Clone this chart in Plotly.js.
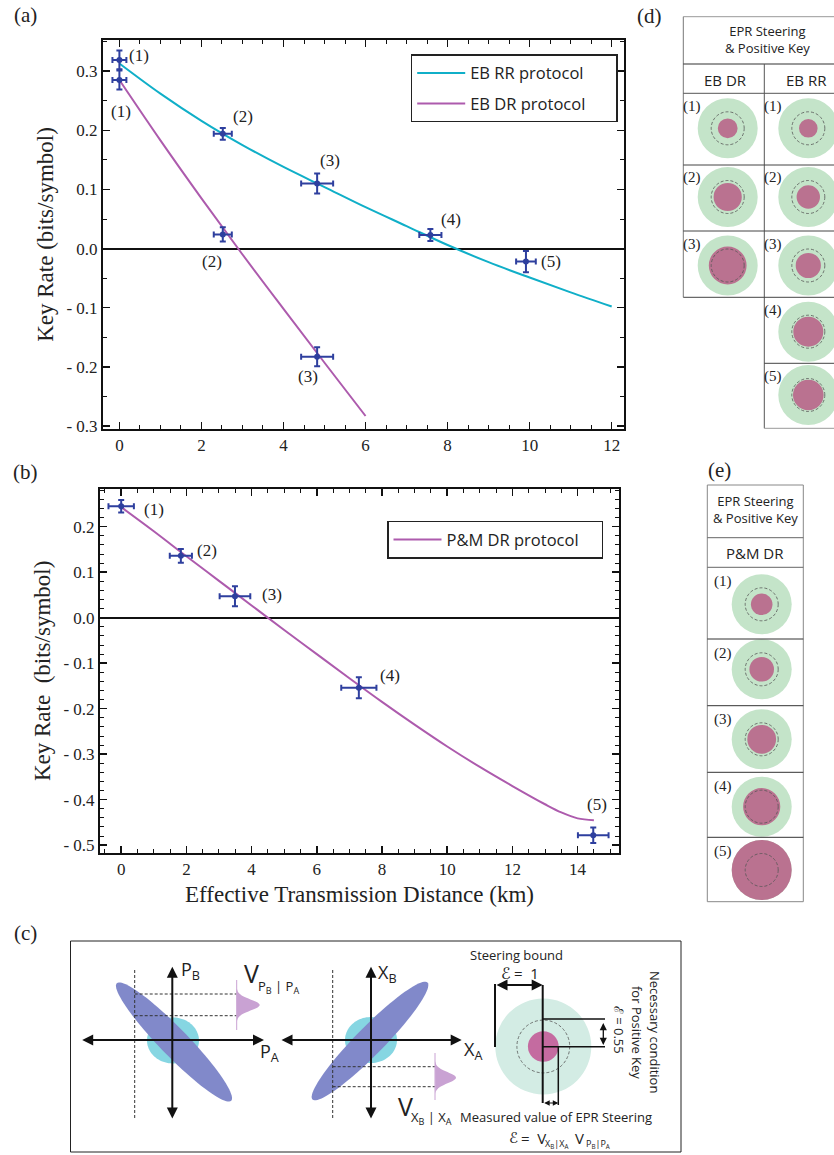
<!DOCTYPE html>
<html><head><meta charset="utf-8">
<script src="https://cdn.plot.ly/plotly-3.0.1.min.js"></script>
<style>html,body{margin:0;padding:0;background:#fff;} #chart{width:834px;height:1155px;}</style>
</head><body><div id="chart"></div>
<script>
// ---------- Panel (a): entanglement-based protocols ----------
const rrDist     = [0, 2.52, 4.82, 7.58, 9.91];
const rrKey      = [0.319, 0.194, 0.110, 0.023, -0.022];
const rrDistErr  = [0.17, 0.22, 0.39, 0.27, 0.24];
const rrKeyErr   = [0.016, 0.010, 0.017, 0.010, 0.018];
const drDist     = [0, 2.52, 4.82];
const drKey      = [0.285, 0.024, -0.183];
const drDistErr  = [0.17, 0.22, 0.39];
const drKeyErr   = [0.016, 0.012, 0.016];
const rrCurveX   = [0, 1, 2, 3, 4, 5, 6, 7, 8, 9, 10, 11, 12];
const rrCurveY   = [0.313, 0.262, 0.216, 0.175, 0.138, 0.104, 0.070, 0.038, 0.006, -0.023, -0.049, -0.074, -0.098];
const drCurveX   = [0, 1, 2, 3, 4, 5, 6];
const drCurveY   = [0.285, 0.183, 0.085, -0.010, -0.102, -0.193, -0.283];
const rrLabels   = ['(1)', '(2)', '(3)', '(4)', '(5)'];
const drLabels   = ['(1)', '(2)', '(3)'];
const aYTicks    = [-0.3, -0.2, -0.1, 0.0, 0.1, 0.2, 0.3];
const aYTickText = ['- 0.3', '- 0.2', '- 0.1', '0.0', '0.1', '0.2', '0.3'];
const aXTicks    = [0, 2, 4, 6, 8, 10, 12];

// ---------- Panel (b): prepare-and-measure protocol ----------
const pmDist     = [0, 1.83, 3.49, 7.29, 14.48];
const pmKey      = [0.245, 0.136, 0.047, -0.154, -0.478];
const pmDistErr  = [0.39, 0.34, 0.47, 0.54, 0.47];
const pmKeyErr   = [0.0135, 0.015, 0.022, 0.023, 0.017];
const pmCurveX   = [0, 1, 2, 3, 4, 5, 6, 7, 8, 9, 10, 11, 12, 13, 13.5, 14, 14.5];
const pmCurveY   = [0.243, 0.190, 0.135, 0.081, 0.027, -0.027, -0.080, -0.133, -0.185, -0.235, -0.283, -0.328, -0.370, -0.410, -0.428, -0.441, -0.445];
const pmLabels   = ['(1)', '(2)', '(3)', '(4)', '(5)'];
const bYTicks    = [-0.5, -0.4, -0.3, -0.2, -0.1, 0.0, 0.1, 0.2];
const bYTickText = ['- 0.5', '- 0.4', '- 0.3', '- 0.2', '- 0.1', '0.0', '0.1', '0.2'];
const bXTicks    = [0, 2, 4, 6, 8, 10, 12, 14];

// ---------- Panels (c)-(e): EPR steering values (fraction of steering bound) ----------
const keyBound      = 0.55;                       // necessary condition for positive key
const cSteer        = 0.32;                       // illustrative value in (c)
const dEBDRSteer    = [0.33, 0.47, 0.63];
const dEBRRSteer    = [0.31, 0.39, 0.42, 0.50, 0.51];
const ePMDRSteer    = [0.36, 0.41, 0.48, 0.62, 1.00];
const rowLabels     = ['(1)', '(2)', '(3)', '(4)', '(5)'];

// ---------- helpers (pixel -> paper) ----------
const W = 834, H = 1155;
const px = x => x / W;
const py = y => 1 - y / H;

const NAVY = '#2E3F9E', CYAN = '#10AFC8', MAG = '#AD5BAD';
const SERIF = 'Liberation Serif, Times New Roman, serif';
const SANS = 'Open Sans, Noto Sans, sans-serif';
const SCRIPT = 'DejaVu Serif, DejaVu Sans, serif';

function pts(x, y, ex, ey, xa, ya) {
  return {x, y, xaxis: xa, yaxis: ya, type: 'scatter', mode: 'markers', showlegend: false,
    marker: {color: NAVY, size: 6},
    error_x: {type: 'data', array: ex, color: NAVY, thickness: 2, width: 3},
    error_y: {type: 'data', array: ey, color: NAVY, thickness: 2, width: 3}};
}
const PAD = n => '\u00a0'.repeat(n);

const traces = [
  {x: rrCurveX, y: rrCurveY, type: 'scatter', mode: 'lines', name: 'EB RR protocol' + PAD(6),
   line: {color: CYAN, width: 2, shape: 'spline'}, legend: 'legend', legendgroup: 'rr', xaxis: 'x', yaxis: 'y'},
  {x: drCurveX, y: drCurveY, type: 'scatter', mode: 'lines', name: 'EB DR protocol' + PAD(6),
   line: {color: MAG, width: 2, shape: 'spline'}, legend: 'legend', legendgroup: 'dr', xaxis: 'x', yaxis: 'y'},
  pts(rrDist, rrKey, rrDistErr, rrKeyErr, 'x', 'y'),
  pts(drDist, drKey, drDistErr, drKeyErr, 'x', 'y'),
  {x: pmCurveX, y: pmCurveY, type: 'scatter', mode: 'lines', name: 'P&amp;M DR protocol' + PAD(4),
   line: {color: MAG, width: 2, shape: 'spline'}, legend: 'legend2', xaxis: 'x2', yaxis: 'y2'},
  pts(pmDist, pmKey, pmDistErr, pmKeyErr, 'x2', 'y2')
];

const axBase = {
  showline: true, linewidth: 2, linecolor: '#111', mirror: 'allticks',
  ticks: 'inside', ticklen: 7, tickwidth: 1.5, tickcolor: '#111',
  showgrid: false, zeroline: false,
  tickfont: {family: SERIF, size: 17, color: '#222'}
};

const annotations = [];
// point labels (offsets in pixels)
const rrOff = [[20, 4], [20, 17], [13, 23], [21, 15], [25, 0]];
const drOff = [[2, -32], [-11, -27], [-9, -20]];
const pmOff = [[33, -3], [26, 5], [37, 2], [31, 12], [4, 31]];
function ptLabels(xs, ys, labs, off, xr, yr) {
  labs.forEach((t, i) => annotations.push({x: xs[i], y: ys[i], xref: xr, yref: yr, text: t, showarrow: false,
    xanchor: 'center', yanchor: 'middle',
    xshift: off[i][0], yshift: off[i][1], font: {family: SERIF, size: 17, color: '#222'}}));
}
ptLabels(rrDist, rrKey, rrLabels, rrOff, 'x', 'y');
ptLabels(drDist, drKey, drLabels, drOff, 'x', 'y');
ptLabels(pmDist, pmKey, pmLabels, pmOff, 'x2', 'y2');

function txt(x, y, t, size, opts) {
  annotations.push(Object.assign({x: px(x), y: py(y), xref: 'paper', yref: 'paper', text: t, showarrow: false,
    xanchor: 'center', yanchor: 'middle',
    font: {family: SANS, size: size, color: '#222'}}, opts || {}));
}
// panel labels
[['(a)', 25, 15], ['(b)', 25, 472], ['(c)', 25, 933], ['(d)', 649, 16], ['(e)', 719, 470]].forEach(p =>
  txt(p[1], p[2], p[0], 21, {font: {family: SERIF, size: 21, color: '#222'}}));

const shapes = [];
function line(x0, y0, x1, y1, w, col, dash) {
  shapes.push({type: 'line', xref: 'paper', yref: 'paper', x0: px(x0), y0: py(y0), x1: px(x1), y1: py(y1),
    line: {color: col || '#111', width: w, dash: dash || 'solid'}});
}
function circ(cx, cy, r, fill, lineCol, lw, dash) {
  shapes.push({type: 'circle', xref: 'paper', yref: 'paper', x0: px(cx - r), x1: px(cx + r), y0: py(cy + r), y1: py(cy - r),
    fillcolor: fill || 'rgba(0,0,0,0)', line: {color: lineCol || 'rgba(0,0,0,0)', width: lw || 0, dash: dash || 'solid'}});
}
function ellipse(cx, cy, a, b, ang, fill) {
  const t = ang * Math.PI / 180; let s = '';
  for (let i = 0; i <= 90; i++) {
    const u = 2 * Math.PI * i / 90, ex = a * Math.cos(u), ey = b * Math.sin(u);
    const X = cx + ex * Math.cos(t) - ey * Math.sin(t), Y = cy + ex * Math.sin(t) + ey * Math.cos(t);
    s += (i ? 'L' : 'M') + px(X).toFixed(5) + ',' + py(Y).toFixed(5);
  }
  shapes.push({type: 'path', xref: 'paper', yref: 'paper', path: s + 'Z', fillcolor: fill, line: {width: 0}});
}
function bump(x0, yc, h, sig, half, fill) {
  let s = 'M' + px(x0) + ',' + py(yc - half);
  for (let i = 0; i <= 40; i++) {
    const y = yc - half + 2 * half * i / 40;
    const x = x0 + h * Math.exp(-Math.pow(y - yc, 2) / (2 * sig * sig));
    s += 'L' + px(x).toFixed(5) + ',' + py(y).toFixed(5);
  }
  shapes.push({type: 'path', xref: 'paper', yref: 'paper', path: s + 'Z', fillcolor: fill, line: {width: 0}});
}
function arrow(x1, y1, x2, y2, both, w) {
  annotations.push({x: px(x2), y: py(y2), xref: 'paper', yref: 'paper', ax: x1 - x2, ay: y1 - y2,
    axref: 'pixel', ayref: 'pixel', showarrow: true, text: '', arrowhead: 2, arrowsize: 1.1,
    arrowwidth: w, arrowcolor: '#111', arrowside: both ? 'end+start' : 'end', standoff: 0, startstandoff: 0});
}

// ---------- Panel (c) ----------
shapes.push({type: 'rect', xref: 'paper', yref: 'paper', x0: px(70.5), x1: px(681), y0: py(1152), y1: py(941),
  line: {color: '#222', width: 1}});
const BLUE = '#8189CA', LCYAN = '#86D6E2', PINK = '#C9A2D3';
const DASH = '3px,2px';
// left scatter
ellipse(173, 1040.5, 26, 23, 0, LCYAN);
ellipse(174, 1042, 82, 14, 45.8, BLUE);
line(134.7, 970, 134.7, 1120, 1, '#333', DASH);
line(134.7, 994, 236.7, 994, 1, '#333', DASH);
line(134.7, 1015.7, 236.7, 1015.7, 1, '#333', DASH);
line(236.7, 980, 236.7, 1030, 1, PINK);
bump(236.7, 1005, 23, 5.5, 16, PINK);
arrow(172.3, 1120, 172.3, 966.7, true, 2);
arrow(80.7, 1040, 264, 1040, true, 2);
txt(179, 970, 'P<sub>B</sub>', 18, {xanchor: 'left'});
txt(258, 1052, 'P<sub>A</sub>', 18, {xanchor: 'left'});
txt(242, 973, 'V', 25, {xanchor: 'left'});
txt(256, 987, 'P<sub>B</sub> | P<sub>A</sub>', 13, {xanchor: 'left'});
// middle scatter
ellipse(371, 1040, 26, 23, 0, LCYAN);
ellipse(370, 1041, 82, 14, -45.5, BLUE);
line(332.7, 970, 332.7, 1120, 1, '#333', DASH);
line(332.7, 1066.7, 435, 1066.7, 1, '#333', DASH);
line(332.7, 1086.7, 435, 1086.7, 1, '#333', DASH);
line(435, 1053, 435, 1100, 1, PINK);
bump(435, 1077.7, 21, 5.5, 16, PINK);
arrow(371, 1120, 371, 966.7, true, 2);
arrow(280, 1040, 461.7, 1040, true, 2);
txt(376, 973, 'X<sub>B</sub>', 18, {xanchor: 'left'});
txt(462, 1050, 'X<sub>A</sub>', 18, {xanchor: 'left'});
txt(396, 1106, 'V', 25, {xanchor: 'left'});
txt(409, 1118, 'X<sub>B</sub> | X<sub>A</sub>', 13, {xanchor: 'left'});
// right: steering illustration
const cR = 48, cX = 543.3, cY = 1046.5;
circ(cX, cY, cR, '#D3ECE4');
circ(cX, cY, cSteer * cR, '#C46BA0');
circ(cX, cY, keyBound * cR, null, '#555', 0.8, DASH);
line(495, 984, 495, 1047, 2);
line(542.7, 985, 542.7, 1103, 2);
line(542.7, 1019, 605, 1019, 1.5);
line(542.7, 1046.7, 605, 1046.7, 1.5);
line(558.3, 1046.7, 558.3, 1105, 1.5);
arrow(495, 985, 542.7, 985, true, 2);
arrow(603.3, 1021.5, 603.3, 1045, true, 1.3);
arrow(542.7, 1103, 558.3, 1103, true, 1);
txt(516, 955, 'Steering bound', 13);
txt(499, 973, 'ℰ', 16, {xanchor: 'left', font: {family: SCRIPT, size: 16, color: '#222'}});
txt(512, 973, '=  1', 15, {xanchor: 'left'});
txt(655, 1032, 'Necessary condition', 13, {textangle: 90});
txt(637, 1032, 'for Positive Key', 13, {textangle: 90});
txt(619, 1030, 'ℰ = 0.55', 13, {textangle: 90});
txt(556, 1117, 'Measured value of EPR Steering', 13);
txt(507, 1138, 'ℰ', 15, {xanchor: 'left', font: {family: SCRIPT, size: 15, color: '#222'}});
txt(519, 1138, '=  V', 15, {xanchor: 'left'});
txt(543, 1144, 'X<sub>B</sub>|X<sub>A</sub>', 9, {xanchor: 'left'});
txt(573, 1138, 'V', 15, {xanchor: 'left'});
txt(584, 1144, 'P<sub>B</sub>|P<sub>A</sub>', 9, {xanchor: 'left'});

// ---------- Panel (d) ----------
const GREEN = '#C4E4C9', KEYMAG = '#BA7290';
const tR = 30;
const dColX = [727.7, 808.3];
const dRowY = [128.3, 197, 265.5, 331.7, 395];
const dRowTop = [93.3, 165, 231, 297.3, 363.3];
function steerCell(cx, cy, e) {
  circ(cx, cy, tR, GREEN);
  circ(cx, cy, Math.min(e, 1) * tR, KEYMAG);
  circ(cx, cy, keyBound * tR, null, '#555', 0.8, DASH);
}
dEBDRSteer.forEach((e, i) => { steerCell(dColX[0], dRowY[i], e); txt(692, dRowTop[i] + 13, rowLabels[i], 15, {font: {family: SERIF, size: 15, color: '#222'}}); });
dEBRRSteer.forEach((e, i) => { steerCell(dColX[1], dRowY[i], e); txt(773, dRowTop[i] + 13, rowLabels[i], 15, {font: {family: SERIF, size: 15, color: '#222'}}); });
line(683.3, 16.7, 834, 16.7, 1, '#999');
line(683.3, 16.7, 683.3, 297.3, 1, '#777');
line(683.3, 64, 834, 64, 1.2, '#333');
line(683.3, 93.3, 834, 93.3, 1, '#555');
line(764.3, 64, 764.3, 428.3, 1, '#555');
line(683.3, 165, 834, 165, 1, '#444');
line(683.3, 231, 834, 231, 1, '#444');
line(683.3, 297.3, 834, 297.3, 1, '#444');
line(764.3, 363.3, 834, 363.3, 1, '#444');
line(764.3, 428.3, 834, 428.3, 1, '#999');
txt(767, 39, 'EPR Steering<br>&amp; Positive Key', 13);
txt(725, 80, 'EB DR', 15);
txt(806, 80, 'EB RR', 15);

// ---------- Panel (e) ----------
const eColX = 761.7;
const eRowY = [604.3, 669.3, 739.3, 806.7, 870];
const eRowTop = [567.3, 639, 705.7, 772.3, 837.3];
ePMDRSteer.forEach((e, i) => { steerCell(eColX, eRowY[i], e); txt(722.5, eRowTop[i] + 14, rowLabels[i], 15, {font: {family: SERIF, size: 15, color: '#222'}}); });
shapes.push({type: 'rect', xref: 'paper', yref: 'paper', x0: px(707.3), x1: px(803.3), y0: py(901.7), y1: py(485),
  line: {color: '#888', width: 1}});
[537.7, 567.3, 639, 705.7, 772.3, 837.3].forEach((y, i) => line(707.3, y, 803.3, y, 1, i < 2 ? '#666' : '#333'));
txt(755, 510, 'EPR Steering<br>&amp; Positive Key', 13);
txt(755, 553, 'P&amp;M DR', 15);

const layout = {
  width: W, height: H, margin: {l: 0, r: 0, t: 0, b: 0},
  paper_bgcolor: '#fff', plot_bgcolor: '#fff', showlegend: true,
  xaxis: Object.assign({}, axBase, {domain: [px(103), px(624)], range: [-0.40, 12.3], anchor: 'y',
    tickvals: aXTicks, minor: {ticks: 'inside', ticklen: 4, tickwidth: 1, tickcolor: '#111', dtick: 0.5, showgrid: false}}),
  yaxis: Object.assign({}, axBase, {domain: [py(429), py(40)], range: [-0.305, 0.3526], anchor: 'x',
    tickvals: aYTicks, ticktext: aYTickText, zeroline: true, zerolinecolor: '#111', zerolinewidth: 2,
    minor: {ticks: 'inside', ticklen: 4, tickwidth: 1, tickcolor: '#111', dtick: 0.05, showgrid: false},
    title: {text: 'Key Rate (bits/symbol)', font: {family: SERIF, size: 23, color: '#222'}, standoff: 6}}),
  xaxis2: Object.assign({}, axBase, {domain: [px(100), px(619)], range: [-0.65, 15.27], anchor: 'y2',
    tickvals: bXTicks, minor: {ticks: 'inside', ticklen: 4, tickwidth: 1, tickcolor: '#111', dtick: 0.5, showgrid: false},
    title: {text: 'Effective Transmission Distance (km)', font: {family: SERIF, size: 23, color: '#222'}, standoff: 8}}),
  yaxis2: Object.assign({}, axBase, {domain: [py(852.7), py(489)], range: [-0.5165, 0.2829], anchor: 'x2',
    tickvals: bYTicks, ticktext: bYTickText, zeroline: true, zerolinecolor: '#111', zerolinewidth: 2,
    minor: {ticks: 'inside', ticklen: 4, tickwidth: 1, tickcolor: '#111', dtick: 0.02, showgrid: false},
    title: {text: 'Key Rate\u00a0\u00a0(bits/symbol)', font: {family: SERIF, size: 23, color: '#222'}, standoff: 6}}),
  legend: {x: px(410.7), y: py(54.3), xanchor: 'left', yanchor: 'top', bgcolor: '#fff', bordercolor: '#222', borderwidth: 1.5,
    font: {family: SANS, size: 16.5, color: '#222'}, tracegroupgap: 6, itemwidth: 48},
  legend2: {x: px(387), y: py(520.7), xanchor: 'left', yanchor: 'top', bgcolor: '#fff', bordercolor: '#222', borderwidth: 1.5,
    font: {family: SANS, size: 16.5, color: '#222'}, itemwidth: 48},
  shapes: shapes,
  annotations: annotations
};

Plotly.newPlot('chart', traces, layout, {staticPlot: true, displayModeBar: false});
</script>
</body></html>
